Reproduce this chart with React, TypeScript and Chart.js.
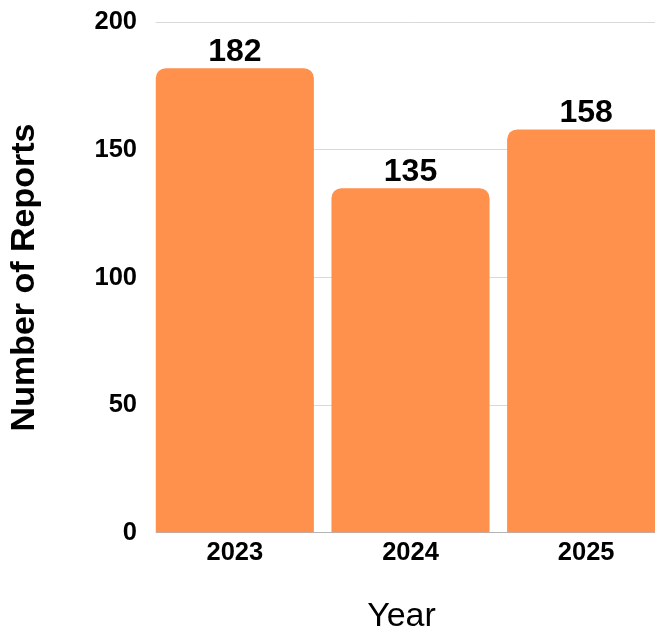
import React, { useEffect, useRef } from "react";
import { Chart, registerables } from "chart.js";

Chart.register(...registerables);

// ---- data ----
const years = ["2023", "2024", "2025"];
const reports = [182, 135, 158];
const yTicks = [0, 50, 100, 150, 200];
const yAxisTitle = "Number of Reports";
const xAxisTitle = "Year";

const FONT = "'Liberation Sans', Arial, Helvetica, sans-serif";
const BAR_COLOR = "#FF914D";
const CANVAS_W = 803;
const CANVAS_H = 637;

export default function App() {
  const ref = useRef<HTMLCanvasElement>(null);

  useEffect(() => {
    const canvas = ref.current;
    if (!canvas) return;

    const valueLabels = {
      id: "valueLabels",
      afterDatasetsDraw(chart: any) {
        const { ctx } = chart;
        const meta = chart.getDatasetMeta(0);
        ctx.save();
        ctx.fillStyle = "#000";
        ctx.font = `bold 32px ${FONT}`;
        ctx.textAlign = "center";
        ctx.textBaseline = "alphabetic";
        meta.data.forEach((bar: any, i: number) => {
          ctx.fillText(String(reports[i]), bar.x, bar.y - 7);
        });
        ctx.restore();
      },
    };

    // keep the grid lines starting at the left edge of the first bar
    const trimGrid = {
      id: "trimGrid",
      beforeDatasetsDraw(chart: any) {
        const { ctx, chartArea } = chart;
        const first = chart.getDatasetMeta(0).data[0] as any;
        if (!first) return;
        const edge = first.x - first.width / 2;
        ctx.save();
        ctx.fillStyle = "#ffffff";
        ctx.fillRect(
          chartArea.left - 2,
          chartArea.top - 3,
          edge - chartArea.left + 2,
          chartArea.bottom - chartArea.top + 6
        );
        ctx.restore();
      },
    };

    const chart = new Chart(canvas, {
      type: "bar",
      data: {
        labels: years,
        datasets: [
          {
            data: reports,
            backgroundColor: BAR_COLOR,
            borderRadius: 10,
            borderSkipped: "start",
            barPercentage: 0.9,
            categoryPercentage: 1,
          },
        ],
      },
      options: {
        responsive: false,
        animation: false,
        layout: { padding: { top: 0, left: 0, right: 0, bottom: 0 } },
        plugins: {
          legend: { display: false },
          tooltip: { enabled: false },
          title: {
            display: true,
            text: xAxisTitle,
            position: "bottom",
            color: "#000",
            font: { family: FONT, size: 34, weight: "normal" },
            padding: { top: 22.9, bottom: 0 },
          },
        },
        scales: {
          x: {
            grid: { display: false, drawTicks: false },
            border: { display: true, color: "#b3b3b3", width: 1 },
            ticks: {
              color: "#000",
              padding: 5,
              font: { family: FONT, size: 25.5, weight: "bold" },
            },
          },
          y: {
            min: yTicks[0],
            max: yTicks[yTicks.length - 1],
            ticks: {
              stepSize: yTicks[1] - yTicks[0],
              color: "#000",
              padding: 10,
              font: { family: FONT, size: 25.5, weight: "bold", lineHeight: 0.96 },
            },
            grid: { color: "#d9d9d9", lineWidth: 1, drawTicks: false },
            border: { display: false },
            title: {
              display: true,
              text: yAxisTitle,
              color: "#000",
              font: { family: FONT, size: 34, weight: "bold" },
              padding: { top: 4.5, bottom: 0 },
            },
            afterFit: (s: any) => {
              s.width = 147;
            },
          },
          yRight: {
            position: "right",
            display: true,
            grid: { display: false, drawTicks: false },
            border: { display: false },
            ticks: { display: false },
            afterFit: (s: any) => {
              s.width = 129;
            },
          },
        },
      } as any,
      plugins: [valueLabels, trimGrid],
    });

    return () => chart.destroy();
  }, []);

  return (
    <div
      style={{
        position: "fixed",
        left: 0,
        top: 0,
        width: 655,
        height: 629,
        overflow: "hidden",
        background: "#fff",
      }}
    >
      <canvas
        ref={ref}
        width={CANVAS_W}
        height={CANVAS_H}
        style={{ display: "block", width: CANVAS_W, height: CANVAS_H }}
      />
    </div>
  );
}
